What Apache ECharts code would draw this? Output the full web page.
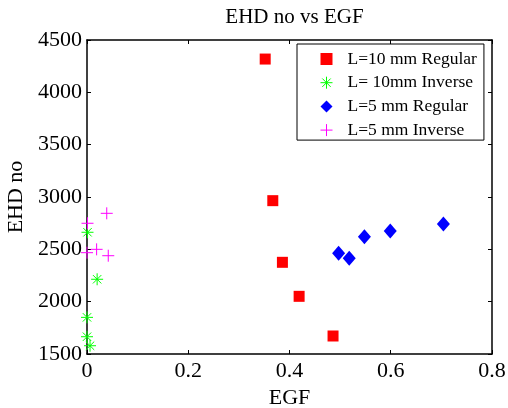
<!DOCTYPE html>
<html>
<head>
<meta charset="utf-8">
<script src="https://cdn.jsdelivr.net/npm/echarts@6/dist/echarts.min.js"></script>
<style>
  html, body { margin: 0; padding: 0; background: #fff; }
  #main { width: 508px; height: 408px; }
</style>
</head>
<body>
<div id="main"></div>
<script>
  // values
  var seriesNames = ['L=10 mm Regular', 'L= 10mm Inverse', 'L=5 mm Regular', 'L=5 mm Inverse'];
  var reg10X = [0.352, 0.367, 0.386, 0.419, 0.486];
  var reg10Y = [4318, 2965, 2376, 2051, 1672];
  var inv10X = [0.001, 0.020, 0.0, 0.0, 0.006];
  var inv10Y = [2663, 2214, 1850, 1665, 1579];
  var reg5X = [0.497, 0.518, 0.548, 0.599, 0.704];
  var reg5Y = [2462, 2414, 2621, 2675, 2742];
  var inv5X = [0.039, 0.001, 0.0, 0.019, 0.042];
  var inv5Y = [2844, 2749, 2468, 2500, 2439];
  var xTicks = [0, 0.2, 0.4, 0.6, 0.8];
  var yTicks = [1500, 2000, 2500, 3000, 3500, 4000, 4500];

  function pairs(xs, ys) {
    return xs.map(function (x, i) { return [x, ys[i]]; });
  }

  var font = 'Liberation Serif';
  var starPath = 'path://M0,-10L0,10M-10,0L10,0M-7,-7L7,7M-7,7L7,-7';
  var plusPath = 'path://M0,-10L0,10M-10,0L10,0';

  function axisBase(ticks, extra) {
    var a = {
      min: ticks[0],
      max: ticks[ticks.length - 1],
      interval: ticks[1] - ticks[0],
      splitLine: { show: false },
      axisLine: { show: true, onZero: false, lineStyle: { color: '#000', width: 1.5 } },
      axisTick: { show: true, inside: true, length: 4, lineStyle: { color: '#000' } },
      axisLabel: { show: false }
    };
    for (var k in extra) a[k] = extra[k];
    return a;
  }

  var myChart = echarts.init(document.getElementById('main'));
  myChart.setOption({
    backgroundColor: '#fff',
    animation: false,
    textStyle: { fontFamily: font },
    title: {
      text: 'EHD no vs EGF',
      left: 289.5,
      textAlign: 'center',
      top: 2,
      textStyle: { fontFamily: font, fontSize: 21, fontWeight: 'normal', color: '#000' }
    },
    grid: { left: 87, right: 16, top: 40, bottom: 54, containLabel: false, outerBoundsMode: 'none' },
    legend: {
      orient: 'vertical',
      left: 297,
      top: 44,
      padding: [6, 7, 1, 21],
      itemGap: 5.7,
      itemWidth: 12,
      itemHeight: 12,
      borderColor: '#000',
      borderWidth: 1,
      backgroundColor: '#fff',
      textStyle: { fontFamily: font, fontSize: 17.5, color: '#000', padding: [0, 0, 0, 10] },
      data: [
        { name: seriesNames[0], icon: 'path://M0,0L10,0L10,10L0,10Z', itemStyle: { color: '#ff0000', opacity: 1 } },
        { name: seriesNames[1], icon: starPath, itemStyle: { color: 'none', borderColor: '#00ff00', borderWidth: 1, opacity: 1 } },
        { name: seriesNames[2], icon: 'diamond', itemStyle: { color: '#0000ff', opacity: 1 } },
        { name: seriesNames[3], icon: plusPath, itemStyle: { color: 'none', borderColor: '#ff00ff', borderWidth: 1, opacity: 1 } }
      ]
    },
    xAxis: [
      axisBase(xTicks, {
        type: 'value',
        position: 'bottom',
        name: 'EGF',
        nameLocation: 'middle',
        nameGap: 32,
        nameTextStyle: { fontFamily: font, fontSize: 22, color: '#000' },
        axisLabel: {
          show: true, margin: 6, fontFamily: font, fontSize: 22, color: '#000',
          formatter: function (v) { return String(v); }
        }
      }),
      axisBase(xTicks, { type: 'value', position: 'top' })
    ],
    yAxis: [
      axisBase(yTicks, {
        type: 'value',
        position: 'left',
        name: 'EHD no',
        nameLocation: 'middle',
        nameGap: 60,
        nameRotate: 90,
        nameTextStyle: { fontFamily: font, fontSize: 22, color: '#000' },
        axisLabel: {
          show: true, margin: 5, fontFamily: font, fontSize: 22, color: '#000',
          formatter: function (v) { return String(v); }
        }
      }),
      axisBase(yTicks, { type: 'value', position: 'right' })
    ],
    series: [
      {
        name: seriesNames[0], type: 'scatter', clip: false,
        symbol: 'rect', symbolSize: 11,
        itemStyle: { color: '#ff0000', opacity: 1 },
        data: pairs(reg10X, reg10Y)
      },
      {
        name: seriesNames[1], type: 'scatter', clip: false,
        symbol: starPath, symbolSize: 12,
        itemStyle: { color: 'none', borderColor: '#00ff00', borderWidth: 1, opacity: 1 },
        data: pairs(inv10X, inv10Y)
      },
      {
        name: seriesNames[2], type: 'scatter', clip: false,
        symbol: 'diamond', symbolSize: [13, 15],
        itemStyle: { color: '#0000ff', opacity: 1 },
        data: pairs(reg5X, reg5Y)
      },
      {
        name: seriesNames[3], type: 'scatter', clip: false,
        symbol: plusPath, symbolSize: 12,
        itemStyle: { color: 'none', borderColor: '#ff00ff', borderWidth: 1, opacity: 1 },
        data: pairs(inv5X, inv5Y)
      }
    ]
  });
</script>
</body>
</html>
